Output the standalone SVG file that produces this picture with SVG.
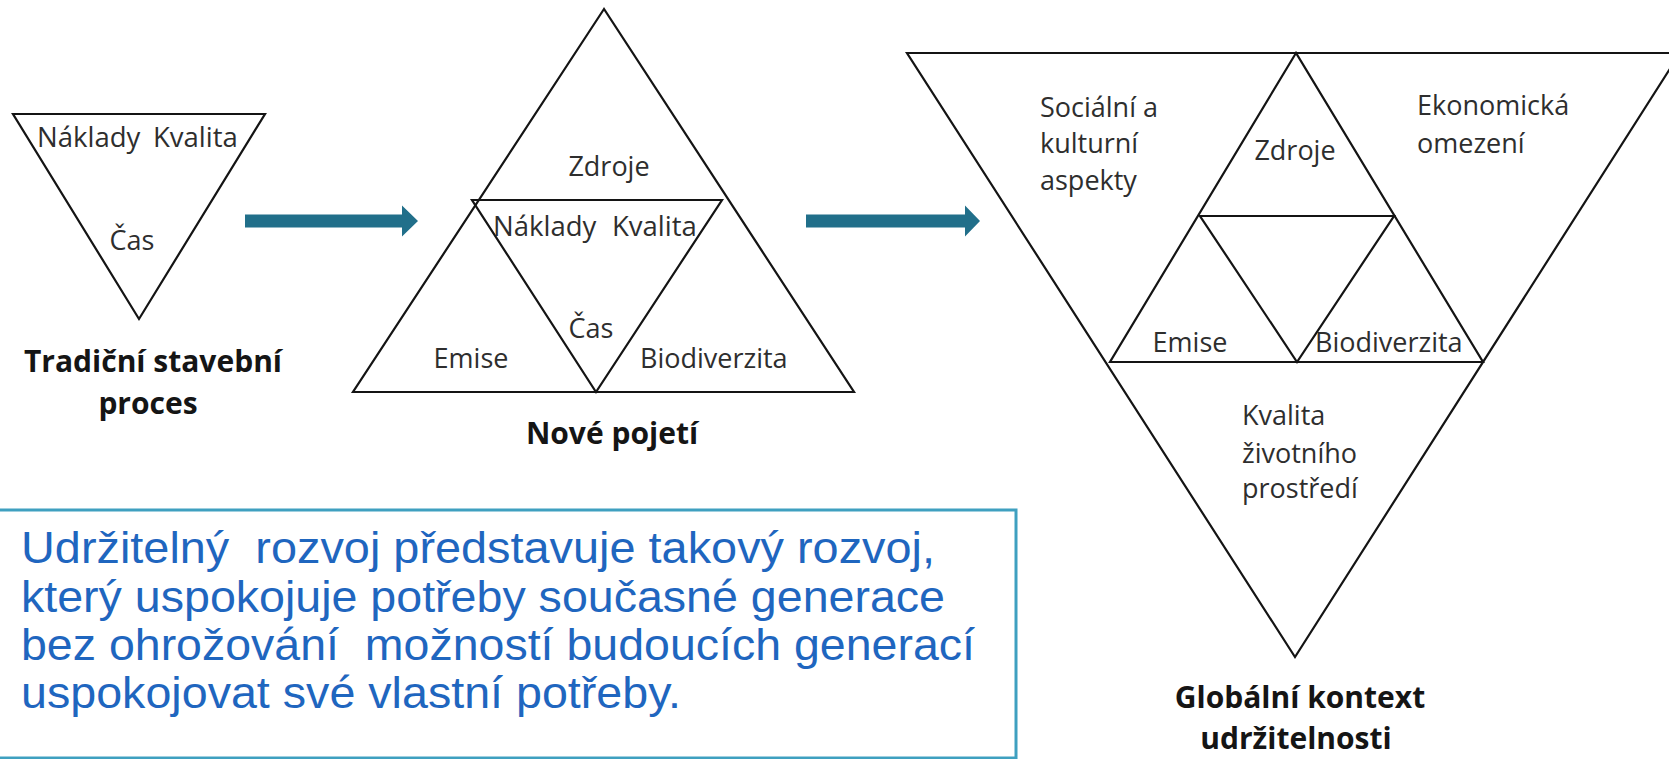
<svg xmlns="http://www.w3.org/2000/svg" width="1669" height="759" viewBox="0 0 1669 759">
<style>
.tri{fill:none;stroke:#141414;stroke-width:2.2;stroke-linejoin:miter}
.lbl{font-family:"Open Sans","Liberation Sans",sans-serif;font-size:27px;fill:#2e2e2e}
.nk{font-size:27.5px}
.ttl{font-family:"Open Sans","Liberation Sans",sans-serif;font-size:30px;font-weight:bold;fill:#151515;text-anchor:middle}
.mid{text-anchor:middle}
.def{font-family:"Liberation Sans",Arial,sans-serif;font-size:44px;fill:#1f66bf;white-space:pre}
.arrow{fill:#216f8a}
</style>
<rect width="1669" height="759" fill="#ffffff"/>

<g id="node-traditional">
<polygon class="tri" points="13,114 265,114 139,319"/>
<text class="lbl nk" y="147"><tspan x="37">Náklady</tspan><tspan x="153">Kvalita</tspan></text>
<text class="lbl mid" x="132" y="250">Čas</text>
<text class="ttl" x="153" y="372">Tradiční stavební</text>
<text class="ttl" x="148" y="414">proces</text>
</g>

<g id="node-new">
<polygon class="tri" points="604,9 353,392 854,392"/>
<polygon class="tri" points="472,200 722,200 596,392"/>
<text class="lbl mid" x="609" y="176">Zdroje</text>
<text class="lbl nk" y="236"><tspan x="493">Náklady</tspan><tspan x="612">Kvalita</tspan></text>
<text class="lbl mid" x="591" y="338">Čas</text>
<text class="lbl mid" x="471" y="368">Emise</text>
<text class="lbl" x="640" y="368">Biodiverzita</text>
<text class="ttl" x="612" y="444">Nové pojetí</text>
</g>

<g id="node-global">
<polygon class="tri" points="907,53 1680,53 1295,657"/>
<polygon class="tri" points="1296,53 1110,362 1483,362"/>
<polygon class="tri" points="1200,216 1394,216 1297,362"/>
<text class="lbl" x="1040" y="117">Sociální a</text>
<text class="lbl" x="1040" y="153">kulturní</text>
<text class="lbl" x="1040" y="190">aspekty</text>
<text class="lbl mid" x="1295" y="160">Zdroje</text>
<text class="lbl" x="1417" y="115">Ekonomická</text>
<text class="lbl" x="1417" y="153">omezení</text>
<text class="lbl mid" x="1190" y="352">Emise</text>
<text class="lbl" x="1315" y="352">Biodiverzita</text>
<text class="lbl" x="1242" y="425">Kvalita</text>
<text class="lbl" x="1242" y="463">životního</text>
<text class="lbl" x="1242" y="498">prostředí</text>
<text class="ttl" x="1300" y="708">Globální kontext</text>
<text class="ttl" x="1296" y="749">udržitelnosti</text>
</g>

<g id="node-definition">
<rect x="-2" y="510" width="1018" height="248" fill="#ffffff" stroke="#3fa0c0" stroke-width="3"/>
<text class="def" x="21" y="563" textLength="914" lengthAdjust="spacingAndGlyphs">Udržitelný  rozvoj představuje takový rozvoj,</text>
<text class="def" x="21" y="612" textLength="924" lengthAdjust="spacingAndGlyphs">který uspokojuje potřeby současné generace</text>
<text class="def" x="21" y="660" textLength="954" lengthAdjust="spacingAndGlyphs">bez ohrožování  možností budoucích generací</text>
<text class="def" x="21" y="708" textLength="660" lengthAdjust="spacingAndGlyphs">uspokojovat své vlastní potřeby.</text>
</g>

<g id="connectors">
<polygon class="arrow" points="245,214.5 402,214.5 402,205.5 418,221 402,236.5 402,227.5 245,227.5"/>
<polygon class="arrow" points="806,214.5 965,214.5 965,205.5 980,221 965,236.5 965,227.5 806,227.5"/>
</g>
</svg>
